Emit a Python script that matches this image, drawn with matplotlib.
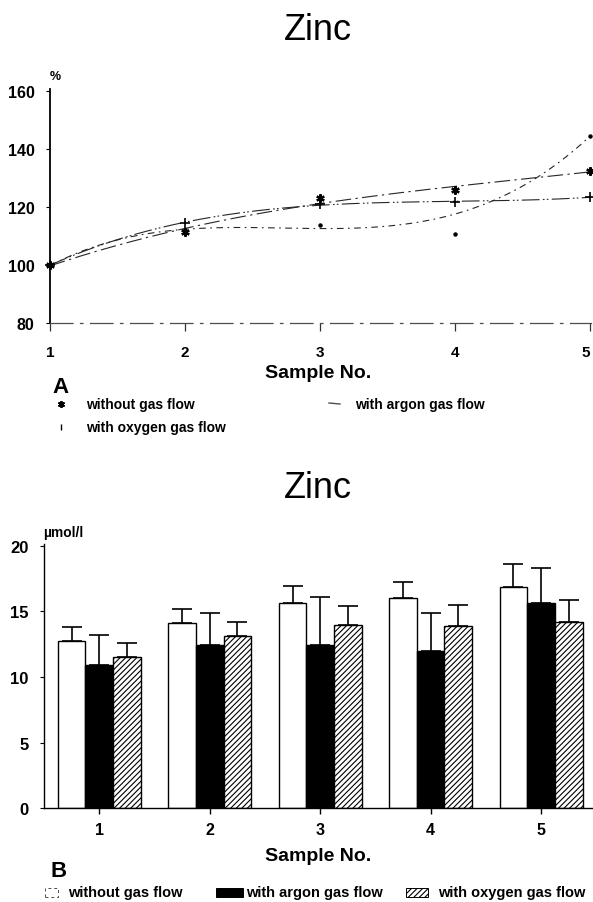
import numpy as np
import matplotlib
matplotlib.use("Agg")
import matplotlib.pyplot as plt
from matplotlib.lines import Line2D
from matplotlib.patches import Rectangle

plt.rcParams['font.family'] = ['Liberation Sans', 'DejaVu Sans']
plt.rcParams['hatch.linewidth'] = 0.8

# ---------- data (panel A: % of sample 1) ----------
samples = [1, 2, 3, 4, 5]
pct_without = [100, 111.4, 123.0, 125.9, 132.4]
pct_oxygen = [100, 114.5, 121.0, 121.7, 123.4]
pct_argon = [100, 111.5, 113.8, 110.7, 144.5]
# weights of the smoothed trend curves (the argon curve nearly ignores sample 4)
fitw_without = [1, 1, 1, 1, 1]
fitw_oxygen = [1, 1, 1, 1, 1]
fitw_argon = [1, 1, 1, 0.12, 1]
yticks_a = [80, 100, 120, 140, 160]

# ---------- data (panel B: µmol/l) ----------
mean_without = [12.72, 14.14, 15.64, 15.99, 16.85]
err_without = [1.07, 1.07, 1.30, 1.27, 1.73]
mean_argon = [10.91, 12.41, 12.44, 11.96, 15.64]
err_argon = [2.31, 2.46, 3.63, 2.91, 2.69]
mean_oxygen = [11.50, 13.12, 13.94, 13.88, 14.16]
err_oxygen = [1.09, 1.07, 1.45, 1.60, 1.73]
yticks_b = [0, 5, 10, 15, 20]

W, H = 593, 903
fig = plt.figure(figsize=(W / 100, H / 100), dpi=100)


def fx(x):
    return x / W


def fy(y):
    return 1 - y / H


# ================= Panel A =================
ax1 = fig.add_axes([fx(50), fy(324), 541 / W, 234 / H])
ax1.set_xlim(1, 5.01)
ax1.set_ylim(80, 160.7)
xs = np.array(samples, dtype=float)
xx = np.linspace(1, 5, 200)
series = [
    (pct_without, fitw_without, (0, (14, 4, 2, 4))),
    (pct_oxygen, fitw_oxygen, (0, (16, 3, 1.5, 2, 1.5, 3))),
    (pct_argon, fitw_argon, (0, (6, 4, 1.5, 4))),
]
for vals, w, ls in series:
    c = np.polyfit(xs, vals, 3, w=np.sqrt(w))
    ax1.plot(xx, np.polyval(c, xx), color='0.15', lw=0.8, linestyle=ls, clip_on=False)

ax1.plot(xs, pct_without, linestyle='none', marker=(6, 2, 0), ms=6, mew=1.6,
         color='black', clip_on=False)
ax1.plot(xs, pct_oxygen, linestyle='none', marker='+', ms=7, mew=1.2,
         color='black', clip_on=False)
ax1.plot(xs, pct_argon, linestyle='none', marker='o', ms=2.2, color='black',
         clip_on=False)

ax1.spines['top'].set_visible(False)
ax1.spines['right'].set_visible(False)
ax1.spines['left'].set_linewidth(1.3)
ax1.spines['bottom'].set_linestyle((0, (18, 6, 2, 6)))
ax1.spines['bottom'].set_linewidth(0.9)
ax1.spines['bottom'].set_color('0.3')
ax1.set_yticks(yticks_a)
ax1.set_yticklabels([str(v) for v in yticks_a], fontsize=11.5, fontweight='bold')
ax1.set_xticks(samples)
ax1.set_xticklabels([str(s) for s in samples], fontsize=11, fontweight='bold')
ax1.tick_params(axis='y', length=3, width=0.8, pad=8)
ax1.tick_params(axis='x', length=6, width=0.9, pad=10, color='0.2')
ax1.get_xticklabels()[-1].set_horizontalalignment('right')
fig.text(fx(50), fy(80), '%', fontsize=9, fontweight='bold', ha='left', va='baseline')

fig.text(fx(318), fy(40), 'Zinc', fontsize=26, ha='center', va='baseline')
fig.text(fx(318), fy(378), 'Sample No.', fontsize=14, fontweight='bold',
         ha='center', va='baseline')
fig.text(fx(52), fy(393), 'A', fontsize=16, fontweight='bold', ha='left', va='baseline')

# legend A
fig.add_artist(Line2D([fx(61)], [fy(405)], transform=fig.transFigure, marker=(6, 2, 0),
                      ms=5, mew=1.3, color='black', linestyle='none'))
fig.text(fx(86), fy(405), 'without gas flow', fontsize=10, fontweight='bold',
         ha='left', va='center')
fig.add_artist(Line2D([fx(329), fx(340)], [fy(404), fy(405)], transform=fig.transFigure,
                      color='0.3', lw=1.0))
fig.text(fx(355), fy(405), 'with argon gas flow', fontsize=10, fontweight='bold',
         ha='left', va='center')
fig.add_artist(Line2D([fx(61)], [fy(428)], transform=fig.transFigure, marker='|',
                      ms=5, mew=1.0, color='black', linestyle='none'))
fig.text(fx(86), fy(428), 'with oxygen gas flow', fontsize=10, fontweight='bold',
         ha='left', va='center')

# ================= Panel B =================
ax2 = fig.add_axes([fx(44), fy(809.3), 549 / W, (809.3 - 545) / H])
ax2.set_xlim(0.5, 5.47)
ax2.set_ylim(0, 20.13)
bw = 0.25
xb = np.array(samples, dtype=float)
ekw = dict(elinewidth=1.2, capthick=1.2, ecolor='black')
zeros = [0] * len(samples)
ax2.bar(xb - bw, mean_without, bw, color='white', edgecolor='black', lw=1.0,
        yerr=[zeros, err_without], capsize=7, error_kw=ekw)
ax2.bar(xb, mean_argon, bw, color='black', edgecolor='black', lw=1.0,
        yerr=[zeros, err_argon], capsize=7, error_kw=ekw)
ax2.bar(xb + bw, mean_oxygen, bw, color='white', edgecolor='black', lw=1.0,
        hatch='//////', yerr=[zeros, err_oxygen], capsize=7, error_kw=ekw)

ax2.spines['top'].set_visible(False)
ax2.spines['right'].set_visible(False)
ax2.spines['left'].set_linewidth(1.0)
ax2.spines['bottom'].set_linewidth(1.0)
ax2.set_yticks(yticks_b)
ax2.set_yticklabels([str(v) for v in yticks_b], fontsize=12, fontweight='bold')
ax2.set_xticks(samples)
ax2.set_xticklabels([str(s) for s in samples], fontsize=11.5, fontweight='bold')
ax2.tick_params(axis='y', length=3, width=0.8, pad=8)
ax2.tick_params(axis='x', length=4, width=1.0, pad=6)
fig.text(fx(43), fy(537), 'µmol/l', fontsize=10, fontweight='bold', ha='left',
         va='baseline')

fig.text(fx(318), fy(498), 'Zinc', fontsize=26, ha='center', va='baseline')
fig.text(fx(318), fy(861), 'Sample No.', fontsize=14, fontweight='bold',
         ha='center', va='baseline')
fig.text(fx(50), fy(877), 'B', fontsize=16, fontweight='bold', ha='left', va='baseline')

# legend B
box_h = 9
fig.add_artist(Rectangle((fx(45), fy(893 + box_h / 2)), 13 / W, box_h / H,
                         transform=fig.transFigure, facecolor='white',
                         edgecolor='0.3', lw=0.7, linestyle=(0, (3, 3))))
fig.text(fx(68), fy(893), 'without gas flow', fontsize=10.5, fontweight='bold',
         ha='left', va='center')
fig.add_artist(Rectangle((fx(216), fy(893 + box_h / 2)), 27 / W, box_h / H,
                         transform=fig.transFigure, facecolor='black',
                         edgecolor='black', lw=0.7))
fig.text(fx(246), fy(893), 'with argon gas flow', fontsize=10.5, fontweight='bold',
         ha='left', va='center')
fig.add_artist(Rectangle((fx(406), fy(893 + box_h / 2)), 22 / W, box_h / H,
                         transform=fig.transFigure, facecolor='white',
                         edgecolor='black', lw=0.7, hatch='//////'))
fig.text(fx(438), fy(893), 'with oxygen gas flow', fontsize=10.5, fontweight='bold',
         ha='left', va='center')

fig.savefig('out.png', dpi=100)
